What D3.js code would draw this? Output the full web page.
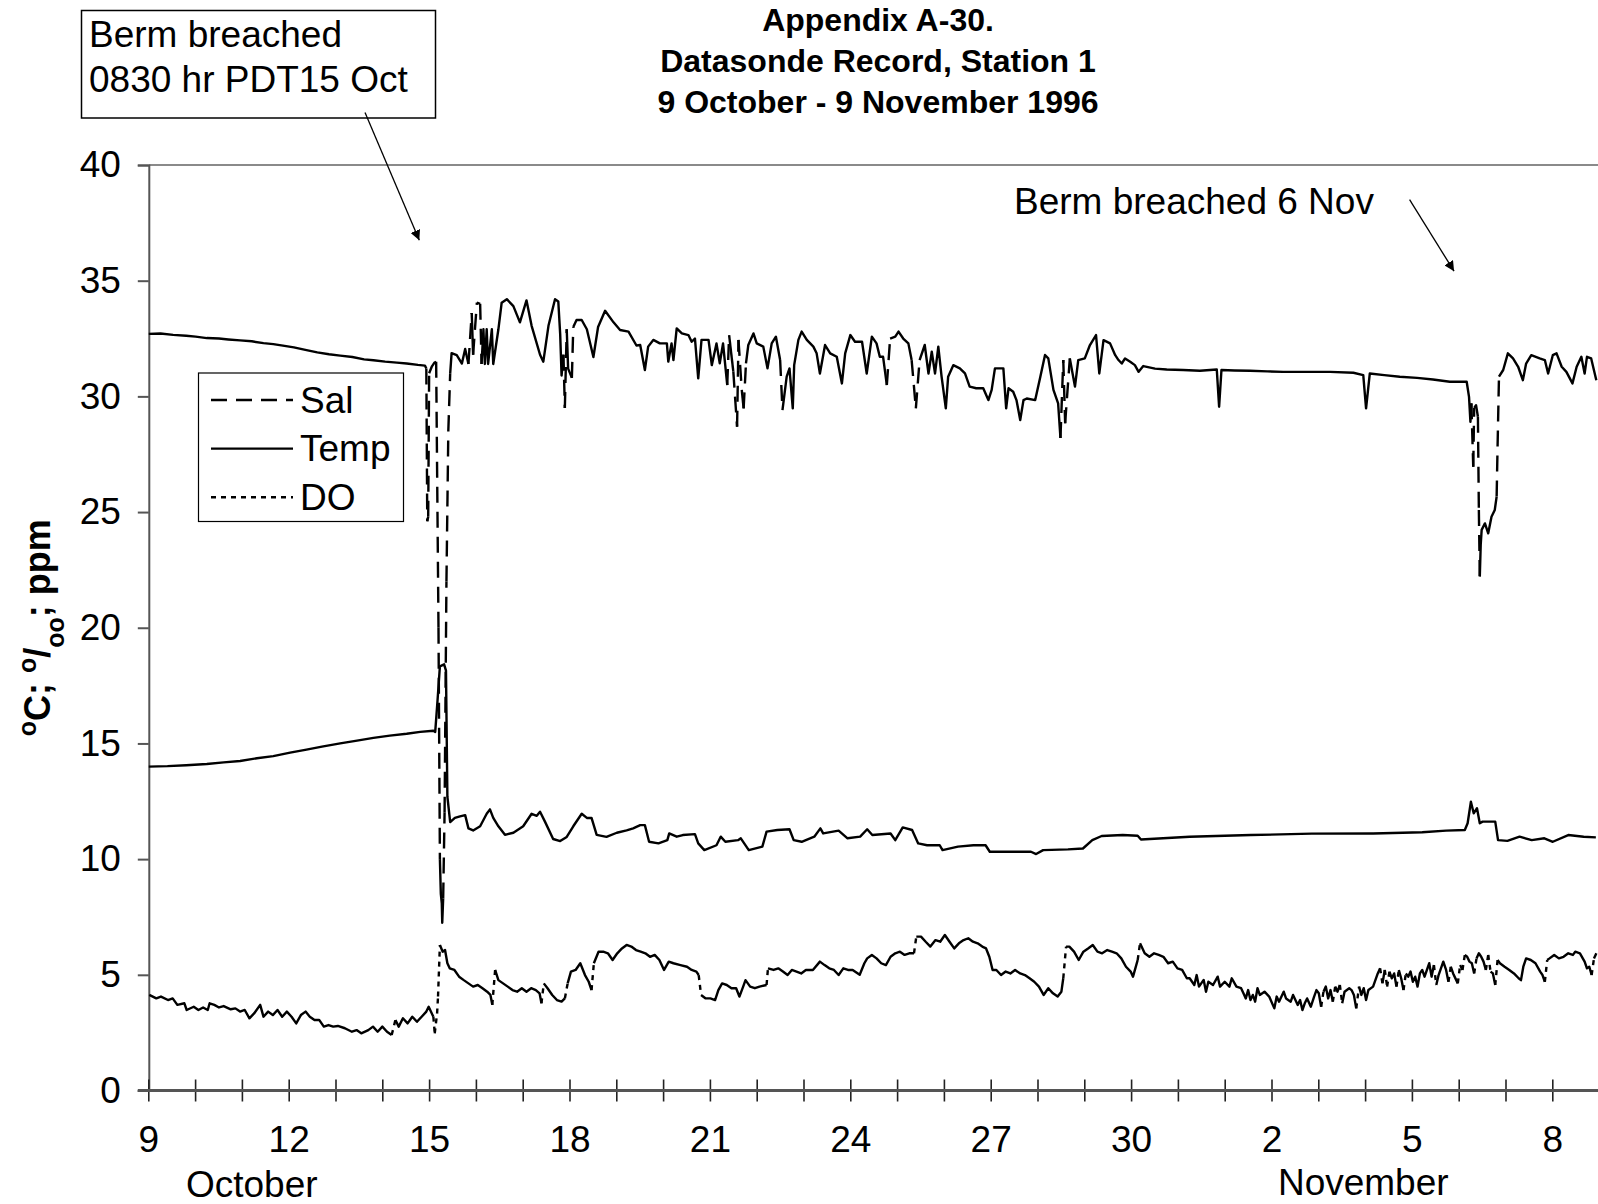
<!DOCTYPE html>
<html lang="en">
<head>
<meta charset="UTF-8" />
<title>Appendix A-30 Datasonde Record</title>
<script src="https://cdn.jsdelivr.net/npm/d3@7"></script>
<style>
  body { margin: 0; background: #fff; }
  svg { display: block; font-family: "Liberation Sans", Arial, sans-serif; }
</style>
</head>
<body>
<script>
// time = days since 9 Oct 1996 00:00
var salinity = [
  [0.00,32.70],[0.25,32.72],[0.52,32.66],[0.80,32.62],[1.00,32.58],[1.24,32.52],[1.50,32.50],[1.70,32.46],
  [1.95,32.42],[2.20,32.38],[2.45,32.30],[2.66,32.26],[2.90,32.18],[3.10,32.12],[3.37,32.00],[3.60,31.90],
  [3.85,31.82],[4.09,31.76],[4.35,31.70],[4.60,31.60],[4.80,31.56],[5.05,31.50],[5.30,31.46],[5.51,31.42],
  [5.75,31.36],[5.90,31.33],[5.93,31.20],[5.95,24.60],[5.97,24.80],[5.99,31.00],[6.05,31.30],[6.10,31.45],
  [6.14,31.50],[6.19,20.00],[6.22,10.00],[6.24,8.50],[6.26,8.10],[6.27,7.25],[6.29,8.30],[6.32,12.00],
  [6.36,22.00],[6.40,28.50],[6.44,31.00],[6.47,31.87],[6.58,31.78],[6.69,31.42],[6.76,32.05],[6.83,31.40],
  [6.90,33.60],[6.93,31.80],[7.01,34.05],[7.08,34.00],[7.11,31.40],[7.15,32.90],[7.18,31.40],[7.22,32.90],
  [7.25,31.40],[7.33,32.90],[7.36,31.40],[7.47,32.90],[7.54,34.05],[7.65,34.20],[7.79,33.90],[7.93,33.20],
  [8.07,34.15],[8.18,33.05],[8.36,31.80],[8.43,31.50],[8.54,33.05],[8.68,34.20],[8.75,34.10],[8.79,32.70],
  [8.82,30.90],[8.86,31.80],[8.89,29.50],[8.93,32.90],[8.96,31.20],[9.04,30.80],[9.07,33.00],[9.14,33.30],
  [9.25,33.30],[9.36,32.90],[9.50,31.70],[9.60,33.00],[9.75,33.70],[9.93,33.20],[10.07,32.87],[10.25,32.80],
  [10.42,32.20],[10.50,32.22],[10.60,31.14],[10.67,32.15],[10.78,32.44],[10.92,32.29],[11.07,32.29],[11.10,31.50],
  [11.17,32.29],[11.21,31.57],[11.28,32.94],[11.39,32.72],[11.53,32.65],[11.60,32.36],[11.67,32.50],[11.74,30.78],
  [11.81,32.44],[11.96,32.44],[12.03,31.35],[12.13,32.29],[12.20,31.43],[12.27,32.29],[12.36,30.49],[12.40,32.65],
  [12.49,31.07],[12.57,28.69],[12.60,32.44],[12.67,30.28],[12.71,29.48],[12.76,31.43],[12.81,32.22],[12.92,32.72],
  [12.99,32.29],[13.13,32.15],[13.22,31.21],[13.31,32.29],[13.40,32.58],[13.49,31.57],[13.54,29.41],[13.63,30.85],
  [13.69,31.21],[13.76,29.48],[13.79,31.35],[13.88,32.44],[13.95,32.80],[14.06,32.44],[14.20,32.15],[14.27,31.86],
  [14.34,30.99],[14.45,32.22],[14.56,31.86],[14.70,31.71],[14.81,30.56],[14.88,31.86],[14.99,32.65],[15.09,32.36],
  [15.24,32.36],[15.34,30.99],[15.45,32.58],[15.55,32.29],[15.62,31.71],[15.69,31.71],[15.77,30.49],[15.84,32.50],
  [15.95,32.58],[16.02,32.80],[16.12,32.50],[16.23,32.29],[16.30,31.57],[16.39,29.48],[16.47,31.57],[16.58,32.22],
  [16.66,30.99],[16.73,31.93],[16.80,30.99],[16.87,32.15],[16.94,30.85],[17.03,29.48],[17.08,30.85],[17.19,31.35],
  [17.33,31.21],[17.44,30.99],[17.54,30.42],[17.68,30.35],[17.83,30.35],[17.94,29.84],[18.01,30.28],[18.08,31.21],
  [18.26,31.21],[18.32,29.48],[18.37,30.35],[18.47,30.20],[18.54,29.84],[18.62,28.98],[18.69,29.84],[18.76,29.91],
  [18.94,29.84],[19.05,30.85],[19.15,31.79],[19.22,31.64],[19.33,30.28],[19.43,29.70],[19.48,28.20],[19.54,31.57],
  [19.58,28.84],[19.68,31.64],[19.79,30.42],[19.86,31.57],[20.00,31.64],[20.11,32.22],[20.24,32.65],[20.31,30.99],
  [20.40,32.43],[20.54,32.29],[20.65,31.78],[20.72,31.57],[20.79,31.42],[20.86,31.64],[20.97,31.50],[21.07,31.35],
  [21.15,31.06],[21.25,31.31],[21.50,31.20],[21.75,31.16],[22.10,31.14],[22.46,31.11],[22.82,31.16],[22.87,29.55],
  [22.92,31.14],[23.20,31.12],[23.53,31.11],[23.90,31.08],[24.24,31.06],[24.70,31.06],[25.24,31.06],[25.74,31.02],
  [25.95,30.92],[26.01,29.48],[26.09,30.99],[26.40,30.92],[26.73,30.85],[27.10,30.80],[27.44,30.73],[27.80,30.63],
  [28.16,30.63],[28.21,29.98],[28.24,28.90],[28.26,29.70],[28.30,26.96],[28.32,29.50],[28.36,29.62],[28.40,29.12],
  [28.42,25.09],[28.44,22.21],[28.46,23.60],[28.48,24.23],[28.55,24.51],[28.62,24.08],[28.69,24.80],[28.76,25.09],
  [28.80,25.67],[28.82,27.83],[28.85,30.85],[28.94,31.14],[29.04,31.86],[29.15,31.64],[29.26,31.28],[29.36,30.70],
  [29.43,31.42],[29.54,31.78],[29.72,31.64],[29.83,31.57],[29.90,30.99],[30.00,31.78],[30.08,31.86],[30.19,31.28],
  [30.29,31.06],[30.42,30.56],[30.51,31.28],[30.61,31.71],[30.68,30.99],[30.73,31.71],[30.82,31.64],[30.93,30.70]
];

var temperature = [
  [0.00,14.00],[0.40,14.02],[0.80,14.06],[1.24,14.11],[1.60,14.18],[1.95,14.24],[2.31,14.36],[2.66,14.45],
  [3.02,14.60],[3.37,14.73],[3.70,14.86],[4.09,15.00],[4.45,15.12],[4.80,15.24],[5.15,15.34],[5.51,15.42],
  [5.80,15.50],[6.08,15.55],[6.12,15.50],[6.17,16.87],[6.22,18.33],[6.31,18.42],[6.35,18.15],[6.38,12.70],
  [6.44,11.60],[6.54,11.78],[6.65,11.85],[6.76,11.90],[6.83,11.33],[6.93,11.24],[7.08,11.42],[7.22,11.96],
  [7.29,12.15],[7.36,11.78],[7.47,11.42],[7.61,11.05],[7.79,11.14],[8.00,11.42],[8.18,11.96],[8.29,11.87],
  [8.36,12.05],[8.47,11.60],[8.64,10.87],[8.79,10.78],[8.93,10.96],[9.07,11.42],[9.25,11.96],[9.36,11.78],
  [9.46,11.78],[9.57,11.05],[9.78,10.96],[10.00,11.14],[10.21,11.24],[10.35,11.33],[10.50,11.47],[10.60,11.47],
  [10.69,10.75],[10.89,10.68],[11.08,10.82],[11.12,11.11],[11.28,10.97],[11.41,11.04],[11.67,11.08],[11.74,10.68],
  [11.87,10.39],[12.13,10.60],[12.22,10.97],[12.32,10.75],[12.59,10.82],[12.65,10.90],[12.82,10.39],[13.11,10.54],
  [13.20,11.19],[13.43,11.26],[13.69,11.29],[13.78,10.82],[13.95,10.75],[14.22,10.97],[14.35,11.33],[14.41,11.11],
  [14.74,11.23],[14.93,10.90],[15.20,10.97],[15.35,11.29],[15.46,11.04],[15.85,11.11],[15.95,10.82],[16.11,11.37],
  [16.31,11.26],[16.44,10.68],[16.63,10.60],[16.90,10.60],[16.96,10.39],[17.29,10.54],[17.62,10.60],[17.88,10.60],
  [17.97,10.32],[18.33,10.32],[18.85,10.32],[18.96,10.22],[19.11,10.39],[19.64,10.42],[19.96,10.46],[20.16,10.82],
  [20.36,11.00],[20.81,11.04],[21.13,11.01],[21.20,10.85],[22.24,10.97],[23.55,11.04],[24.85,11.10],[26.16,11.11],
  [27.21,11.16],[27.72,11.23],[28.12,11.26],[28.18,11.55],[28.25,12.48],[28.31,11.98],[28.38,12.20],[28.44,11.55],
  [28.50,11.62],[28.77,11.62],[28.83,10.82],[29.03,10.79],[29.29,10.97],[29.55,10.82],[29.82,10.90],[30.00,10.75],
  [30.33,11.04],[30.66,10.97],[30.92,10.94]
];

var dissolvedOxygen = [
  [0.01,4.13],[0.16,3.98],[0.26,4.06],[0.41,3.91],[0.51,3.98],[0.61,3.70],[0.76,3.77],[0.81,3.48],
  [0.96,3.62],[1.06,3.48],[1.16,3.59],[1.26,3.48],[1.30,3.77],[1.40,3.70],[1.50,3.59],[1.60,3.65],
  [1.75,3.51],[1.85,3.55],[1.95,3.41],[2.05,3.48],[2.15,3.12],[2.25,3.33],[2.38,3.70],[2.45,3.19],
  [2.55,3.41],[2.65,3.26],[2.75,3.48],[2.85,3.19],[2.95,3.41],[3.05,3.19],[3.15,2.90],[3.25,3.26],
  [3.35,3.41],[3.44,3.19],[3.54,3.05],[3.64,3.05],[3.74,2.76],[3.84,2.83],[3.94,2.76],[4.04,2.79],
  [4.19,2.69],[4.34,2.54],[4.44,2.61],[4.54,2.47],[4.69,2.61],[4.79,2.76],[4.89,2.54],[4.99,2.76],
  [5.09,2.54],[5.19,2.40],[5.27,3.05],[5.34,2.76],[5.43,3.12],[5.53,2.90],[5.63,3.19],[5.73,2.97],
  [5.83,3.19],[5.93,3.41],[5.98,3.62],[6.08,3.19],[6.11,2.47],[6.16,3.33],[6.18,4.06],[6.22,6.29],
  [6.28,6.00],[6.33,6.07],[6.38,5.50],[6.43,5.28],[6.53,5.21],[6.63,4.92],[6.73,4.77],[6.83,4.63],
  [6.93,4.49],[7.03,4.56],[7.13,4.42],[7.23,4.27],[7.30,4.13],[7.34,3.70],[7.40,5.21],[7.47,4.77],
  [7.57,4.63],[7.67,4.49],[7.77,4.34],[7.87,4.27],[7.97,4.42],[8.07,4.27],[8.17,4.42],[8.27,4.34],
  [8.35,4.20],[8.39,3.77],[8.44,4.63],[8.52,4.42],[8.62,4.13],[8.72,3.91],[8.82,3.84],[8.89,3.98],
  [8.95,4.63],[9.02,5.14],[9.12,5.21],[9.22,5.50],[9.32,4.99],[9.40,4.70],[9.46,4.34],[9.51,5.50],
  [9.61,6.00],[9.71,6.00],[9.81,5.93],[9.91,5.64],[10.01,5.93],[10.11,6.14],[10.21,6.29],[10.31,6.22],
  [10.41,6.07],[10.51,6.00],[10.61,5.93],[10.71,5.78],[10.81,5.86],[10.91,5.64],[11.01,5.21],[11.11,5.57],
  [11.21,5.50],[11.36,5.42],[11.50,5.35],[11.60,5.21],[11.70,5.14],[11.75,4.99],[11.80,4.13],[11.90,3.98],
  [12.00,3.98],[12.10,3.91],[12.17,4.34],[12.25,4.63],[12.35,4.56],[12.45,4.42],[12.55,4.42],[12.62,4.06],
  [12.70,4.49],[12.75,4.77],[12.85,4.49],[12.95,4.42],[13.05,4.49],[13.20,4.56],[13.23,5.28],[13.35,5.21],
  [13.45,5.28],[13.55,5.14],[13.65,4.99],[13.74,5.21],[13.84,5.14],[13.94,5.06],[14.04,5.21],[14.19,5.21],
  [14.34,5.57],[14.44,5.42],[14.54,5.28],[14.64,5.21],[14.74,4.99],[14.84,5.28],[14.94,5.21],[15.04,5.21],
  [15.19,5.00],[15.29,5.50],[15.35,5.71],[15.45,5.86],[15.55,5.71],[15.65,5.50],[15.75,5.42],[15.85,5.78],
  [15.95,5.93],[16.05,6.00],[16.15,5.86],[16.25,5.93],[16.35,5.93],[16.40,6.65],[16.50,6.65],[16.60,6.43],
  [16.70,6.22],[16.81,6.50],[16.91,6.43],[17.01,6.72],[17.11,6.43],[17.21,6.14],[17.31,6.36],[17.41,6.50],
  [17.51,6.58],[17.61,6.43],[17.71,6.36],[17.81,6.22],[17.89,6.14],[17.96,5.78],[18.03,5.21],[18.11,5.21],
  [18.21,4.99],[18.31,5.14],[18.41,5.06],[18.51,5.21],[18.62,5.06],[18.72,4.99],[18.82,4.85],[18.92,4.70],
  [19.02,4.49],[19.12,4.13],[19.22,4.42],[19.32,4.20],[19.42,4.06],[19.50,4.27],[19.54,4.85],[19.60,6.22],
  [19.67,6.22],[19.77,6.00],[19.87,5.64],[19.97,6.00],[20.07,6.14],[20.17,6.29],[20.27,6.00],[20.37,5.93],
  [20.48,6.07],[20.58,6.00],[20.68,5.93],[20.78,5.71],[20.88,5.35],[20.98,5.14],[21.03,4.92],[21.08,5.28],
  [21.13,5.64],[21.18,6.36],[21.28,5.93],[21.38,5.78],[21.48,5.93],[21.58,5.86],[21.68,5.78],[21.78,5.50],
  [21.88,5.57],[21.98,5.28],[22.08,5.21],[22.18,4.85],[22.24,4.85],[22.34,4.56],[22.39,4.99],[22.44,4.49],
  [22.54,4.78],[22.59,4.27],[22.64,4.70],[22.74,4.56],[22.84,4.92],[22.89,4.49],[22.99,4.70],[23.09,4.49],
  [23.14,4.85],[23.24,4.49],[23.34,4.42],[23.39,4.20],[23.44,3.98],[23.49,4.34],[23.54,3.91],[23.59,4.13],
  [23.64,3.84],[23.69,4.42],[23.74,4.13],[23.84,4.27],[23.94,4.06],[24.05,3.55],[24.10,4.06],[24.15,3.84],
  [24.25,4.27],[24.30,3.98],[24.40,3.84],[24.45,4.13],[24.55,3.70],[24.60,3.91],[24.65,3.48],[24.70,3.77],
  [24.75,3.98],[24.83,3.62],[24.90,4.06],[24.95,4.34],[25.00,4.20],[25.05,3.62],[25.10,4.27],[25.15,4.49],
  [25.20,3.98],[25.25,4.34],[25.30,3.84],[25.35,4.49],[25.40,4.27],[25.45,4.56],[25.50,3.77],[25.55,4.27],
  [25.65,4.42],[25.70,4.34],[25.75,4.13],[25.80,3.55],[25.86,4.49],[25.91,4.13],[25.96,4.42],[26.01,3.91],
  [26.06,4.34],[26.16,4.49],[26.26,5.06],[26.31,5.28],[26.36,4.63],[26.41,5.21],[26.46,4.49],[26.51,5.14],
  [26.56,4.85],[26.61,5.06],[26.66,4.49],[26.71,5.21],[26.76,4.85],[26.81,4.34],[26.86,5.06],[26.91,4.92],
  [26.96,5.14],[27.01,4.70],[27.06,4.92],[27.11,4.49],[27.16,5.06],[27.21,5.21],[27.26,4.92],[27.36,5.50],
  [27.41,4.92],[27.46,5.42],[27.51,4.56],[27.56,4.99],[27.66,5.57],[27.72,5.21],[27.77,4.70],[27.82,5.35],
  [27.87,5.06],[27.97,4.63],[28.02,5.42],[28.07,5.21],[28.12,5.86],[28.17,5.78],[28.22,5.57],[28.27,5.50],
  [28.32,5.06],[28.37,5.71],[28.42,5.93],[28.47,5.78],[28.52,5.57],[28.57,5.21],[28.62,5.86],[28.67,5.14],
  [28.72,5.06],[28.77,4.56],[28.82,5.64],[28.87,5.50],[28.97,5.35],[29.07,5.21],[29.17,5.06],[29.27,4.85],
  [29.32,4.77],[29.37,5.35],[29.43,5.71],[29.53,5.64],[29.63,5.50],[29.73,5.14],[29.78,4.99],[29.83,4.70],
  [29.88,5.64],[29.93,5.71],[30.03,5.86],[30.13,5.71],[30.23,5.78],[30.33,5.93],[30.43,5.86],[30.48,6.00],
  [30.58,5.93],[30.68,5.57],[30.73,5.28],[30.78,5.35],[30.83,4.99],[30.88,5.71],[30.93,5.93]
];

var yTicks = [0, 5, 10, 15, 20, 25, 30, 35, 40];
var xTickDays = d3.range(0, 31);
var xLabelDays = [0, 3, 6, 9, 12, 15, 18, 21, 24, 27, 30];
var xLabels = ["9", "12", "15", "18", "21", "24", "27", "30", "2", "5", "8"];
var monthNames = ["October", "November"];
var monthDays = [2.2, 25.95];
var titleLines = ["Appendix A-30.", "Datasonde Record, Station 1", "9 October - 9 November 1996"];
var seriesNames = ["Sal", "Temp", "DO"];

var w = 1598, h = 1204;

var svg = d3.select("body").append("svg")
  .attr("width", w)
  .attr("height", h);

var x = d3.scaleLinear().domain([0, 31]).range([148.8, 1599.6]);
var y = d3.scaleLinear().domain([0, 40]).range([1090.5, 165]);

// title
svg.selectAll(".title")
  .data(titleLines)
  .enter()
  .append("text")
  .attr("class", "title")
  .attr("x", 878)
  .attr("y", function(d, i) { return 31 + i * 41; })
  .attr("text-anchor", "middle")
  .style("font-weight", "bold")
  .style("font-size", "32px")
  .text(function(d) { return d; });

// top border of plot area
svg.append("line")
  .attr("x1", x(0)).attr("x2", x(31))
  .attr("y1", y(40)).attr("y2", y(40))
  .attr("stroke", "#8a8a8a")
  .attr("stroke-width", 2);

// y axis
var yAxis = d3.axisLeft(y)
  .tickValues(yTicks)
  .tickSize(11)
  .tickPadding(17);

var gy = svg.append("g")
  .attr("transform", "translate(" + x(0) + ",0)")
  .call(yAxis);
gy.select(".domain").attr("stroke", "#555").attr("stroke-width", 2);
gy.selectAll(".tick line").attr("stroke", "#555").attr("stroke-width", 2);
gy.selectAll(".tick text")
  .style("font-family", "'Liberation Sans', Arial, sans-serif")
  .style("font-size", "37px")
  .attr("fill", "#000");

// x axis, ticks cross the line
var gx = svg.append("g");
gx.selectAll(".xtick")
  .data(xTickDays)
  .enter()
  .append("line")
  .attr("x1", function(d) { return x(d); })
  .attr("x2", function(d) { return x(d); })
  .attr("y1", y(0) - 11)
  .attr("y2", y(0) + 11)
  .attr("stroke", "#222")
  .attr("stroke-width", 1.6);
gx.append("line")
  .attr("x1", x(0) - 11).attr("x2", x(31))
  .attr("y1", y(0)).attr("y2", y(0))
  .attr("stroke", "#555")
  .attr("stroke-width", 3);
gx.selectAll(".xlabel")
  .data(xLabelDays)
  .enter()
  .append("text")
  .attr("x", function(d) { return x(d); })
  .attr("y", 1152)
  .attr("text-anchor", "middle")
  .style("font-size", "37px")
  .text(function(d, i) { return xLabels[i]; });
gx.selectAll(".month")
  .data(monthDays)
  .enter()
  .append("text")
  .attr("x", function(d) { return x(d); })
  .attr("y", function(d, i) { return i == 0 ? 1197 : 1195; })
  .attr("text-anchor", "middle")
  .style("font-size", "37px")
  .text(function(d, i) { return monthNames[i]; });

// y axis title: oC; o/oo; ppm
var ytitle = svg.append("text")
  .attr("transform", "translate(50," + y(20) + ") rotate(-90)")
  .attr("text-anchor", "middle")
  .style("font-weight", "bold")
  .style("font-size", "36px");
ytitle.append("tspan").attr("baseline-shift", "super").style("font-size", "25px").text("o");
ytitle.append("tspan").text("C; ");
ytitle.append("tspan").attr("baseline-shift", "super").style("font-size", "25px").text("o");
ytitle.append("tspan").text("/");
ytitle.append("tspan").attr("baseline-shift", "sub").style("font-size", "25px").text("oo");
ytitle.append("tspan").text("; ppm");

// series
var line = d3.line()
  .x(function(d) { return x(d[0]); })
  .y(function(d) { return y(d[1]); });

var plot = svg.append("g")
  .attr("fill", "none")
  .attr("stroke", "#000")
  .attr("stroke-width", 2.4)
  .attr("stroke-linejoin", "round");

// Excel restarts the dash pattern on every segment, so only long (steep) jumps show it
function drawSeries(data, dash, limit) {
  var runs = [], cur = [data[0]];
  for (var i = 1; i < data.length; i++) {
    var a = data[i - 1], b = data[i];
    if (dash && Math.abs(y(b[1]) - y(a[1])) > limit) {
      if (cur.length > 1) runs.push({ pts: cur, dashed: false });
      runs.push({ pts: [a, b], dashed: true });
      cur = [b];
    } else {
      cur.push(b);
    }
  }
  if (cur.length > 1) runs.push({ pts: cur, dashed: false });

  plot.append("g")
    .selectAll("path")
    .data(runs)
    .enter()
    .append("path")
    .attr("d", function(d) { return line(d.pts); })
    .attr("stroke-dasharray", function(d) { return d.dashed ? dash : null; });
}

drawSeries(salinity, "16,9", 45);
drawSeries(temperature, null, 0);
drawSeries(dissolvedOxygen, "5,5", 15);

// legend
var legend = svg.append("g");
legend.append("rect")
  .attr("x", 198.5).attr("y", 373)
  .attr("width", 205).attr("height", 148.5)
  .attr("fill", "#fff")
  .attr("stroke", "#000")
  .attr("stroke-width", 1.2);
var dashes = ["16,9", null, "5,5"];
seriesNames.forEach(function(name, i) {
  var ly = 400 + i * 48.6;
  legend.append("line")
    .attr("x1", 211).attr("x2", 293)
    .attr("y1", ly).attr("y2", ly)
    .attr("stroke", "#000")
    .attr("stroke-width", 2.4)
    .attr("stroke-dasharray", dashes[i]);
  legend.append("text")
    .attr("x", 300)
    .attr("y", ly + 12.5)
    .style("font-size", "37px")
    .text(name);
});

// annotations
svg.append("defs").append("marker")
  .attr("id", "head")
  .attr("viewBox", "0 0 10 10")
  .attr("refX", 10).attr("refY", 5)
  .attr("markerWidth", 10).attr("markerHeight", 10)
  .attr("markerUnits", "userSpaceOnUse")
  .attr("orient", "auto")
  .append("path")
  .attr("d", "M0,0L10,5L0,10z")
  .attr("fill", "#000");

var note1 = svg.append("g");
note1.append("rect")
  .attr("x", 81.5).attr("y", 10.5)
  .attr("width", 354).attr("height", 107.5)
  .attr("fill", "#fff")
  .attr("stroke", "#000")
  .attr("stroke-width", 1.5);
note1.selectAll("text")
  .data(["Berm breached", "0830 hr PDT15 Oct"])
  .enter()
  .append("text")
  .attr("x", 89)
  .attr("y", function(d, i) { return 47 + i * 45; })
  .style("font-size", "37px")
  .text(function(d) { return d; });
note1.append("line")
  .attr("x1", x(4.62)).attr("y1", y(42.27))
  .attr("x2", x(5.78)).attr("y2", y(36.75))
  .attr("stroke", "#000").attr("stroke-width", 1.3)
  .attr("marker-end", "url(#head)");

svg.append("text")
  .attr("x", 1014)
  .attr("y", 214)
  .style("font-size", "37px")
  .text("Berm breached 6 Nov");
svg.append("line")
  .attr("x1", x(26.94)).attr("y1", y(38.5))
  .attr("x2", x(27.89)).attr("y2", y(35.41))
  .attr("stroke", "#000").attr("stroke-width", 1.3)
  .attr("marker-end", "url(#head)");
</script>
</body>
</html>
